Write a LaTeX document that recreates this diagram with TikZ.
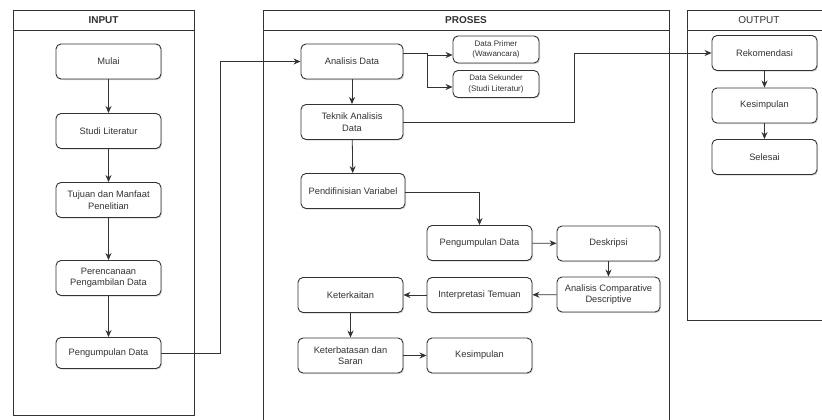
\documentclass[tikz,border=0pt]{standalone}
\usepackage{fontspec}
\setmainfont{Liberation Sans}
\usetikzlibrary{arrows.meta,shadows}
\definecolor{ln}{HTML}{333333}
\tikzset{
  box/.style={draw=ln, line width=0.9pt, rounded corners=5pt, fill=white, text=ln,
    minimum width=105pt, minimum height=35pt, inner sep=1pt, align=center,
    font=\fontsize{9.3}{11.5}\selectfont,
    drop shadow={shadow xshift=1pt, shadow yshift=-1.2pt, opacity=0.3, fill=gray}},
  smallbox/.style={box, minimum width=86pt, minimum height=27pt, font=\fontsize{8}{10.5}\selectfont},
  lane/.style={draw=ln, line width=0.9pt, fill=white},
  head/.style={text=ln, font=\fontsize{10}{12}\selectfont},
  arr/.style={draw=ln, line width=0.8pt, -{Stealth[length=7pt,width=6pt]}},
}
\begin{document}
\begin{tikzpicture}[x=1pt,y=-1pt]
\useasboundingbox (0,0) rectangle (822,420);
\fill[white] (0,0) rectangle (822,420);
\begin{scope}
\clip (0,0) rectangle (822,420);
% lanes
\draw[lane] (13,10) rectangle (194,415);
\draw[lane] (13,30) -- (194,30);
\node[head, font=\fontsize{10}{12}\selectfont\bfseries] (hin) at (103.5,20) {INPUT};
\draw[lane] (263,10) rectangle (669,430);
\draw[lane] (263,30) -- (669,30);
\node[head, font=\fontsize{10}{12}\selectfont\bfseries] (hpr) at (466,20) {PROSES};
\draw[lane] (687,10) rectangle (831,320);
\draw[lane] (687,30) -- (831,30);
\node[head] (hout) at (759,20) {OUTPUT};
\end{scope}

% INPUT
\node[box] (mulai) at (108.5,61.5) {Mulai};
\node[box] (studi) at (108.5,131) {Studi Literatur};
\node[box] (tujuan) at (108.5,200) {Tujuan dan Manfaat\\Penelitian};
\node[box] (renc) at (108.5,278) {Perencanaan\\Pengambilan Data};
\node[box, minimum height=31pt] (pg1) at (108.5,353) {Pengumpulan Data};

% PROSES
\node[box, minimum width=102pt] (ana) at (352,61.5) {Analisis Data};
\node[box, minimum width=102pt] (tek) at (352,122) {Teknik Analisis\\Data};
\node[box, minimum width=104pt] (pend) at (353,191) {Pendifinisian Variabel};
\node[smallbox] (prim) at (496,49.5) {Data Primer\\(Wawancara)};
\node[smallbox] (sek) at (496,84) {Data Sekunder\\(Studi Literatur)};
\node[box] (pg2) at (479.5,243) {Pengumpulan Data};
\node[box, minimum width=103pt] (desk) at (608.5,243.5) {Deskripsi};
\node[box, minimum width=103pt] (acd) at (608.5,294.5) {Analisis Comparative\\Descriptive};
\node[box] (interp) at (479.5,295) {Interpretasi Temuan};
\node[box] (ket) at (350.5,295) {Keterkaitan};
\node[box] (ketb) at (350.5,355.5) {Keterbatasan dan\\Saran};
\node[box] (kes2) at (479.5,355.5) {Kesimpulan};

% OUTPUT
\node[box] (rek) at (764.5,53) {Rekomendasi};
\node[box] (kes3) at (764.5,105.5) {Kesimpulan};
\node[box] (sel) at (764.5,157) {Selesai};

% connectors INPUT
\draw[arr] (mulai) -- (studi);
\draw[arr] (studi) -- (tujuan);
\draw[arr] (tujuan) -- (renc);
\draw[arr] (renc) -- (pg1);
\draw[arr] (pg1.east) -- ++(59,0) |- (ana.west);

% connectors PROSES
\coordinate (fork) at (427,53);
\draw[arr] (ana.east |- fork) -- (fork) |- ([yshift=-5.5pt]prim.west);
\draw[arr] (fork) |- ([yshift=-3pt]sek.west);
\draw[arr] (ana) -- (tek);
\draw[arr] (tek) -- (pend);
\coordinate (tturn) at (574,122);
\draw[arr] (tek.east) -- (tturn) |- (rek.west);
\draw[arr] ([yshift=-1pt]pend.east) -| (pg2.north);
\draw[arr] (pg2) -- (desk);
\draw[arr] (desk) -- (acd);
\draw[arr] (acd) -- (interp);
\draw[arr] (interp) -- (ket);
\draw[arr] (ket) -- (ketb);
\draw[arr] (ketb) -- (kes2);

% connectors OUTPUT
\draw[arr] (rek) -- (kes3);
\draw[arr] (kes3) -- (sel);
\end{tikzpicture}
\end{document}
